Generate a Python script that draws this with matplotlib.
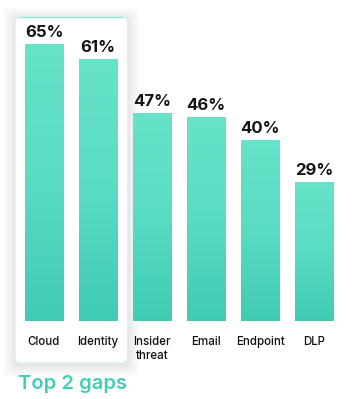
import numpy as np
import matplotlib
matplotlib.use("Agg")
import matplotlib.pyplot as plt
from matplotlib.patches import FancyBboxPatch, Rectangle
from matplotlib.colors import LinearSegmentedColormap

categories = ['Cloud', 'Identity', 'Insider\nthreat', 'Email', 'Endpoint', 'DLP']
values = [65, 61, 47, 46, 40, 29]
value_labels = ['65%', '61%', '47%', '46%', '40%', '29%']

plt.rcParams['font.family'] = ['Inter', 'DejaVu Sans']

fig = plt.figure(figsize=(3.55, 3.99), dpi=100)
ax = fig.add_axes([0, 0, 1, 1])
ax.set_xlim(-0.815, 5.759)
ax.set_ylim(-27.35, 76.34)
ax.axis('off')

# px -> data helpers (54 px per category, 3.848 px per percent)
px_x = 1 / 54
px_y = 1 / 3.848
base = -7.0

# highlight box around the top 2 with soft shadow
bx0, bx1 = -0.815 + 15 * px_x, -0.815 + 127.7 * px_x
by0 = 76.34 - 363 * px_y
by1 = 76.34 - 17 * px_y
for k in range(12, 0, -1):
    grow = k * 1.0
    sh = FancyBboxPatch((bx0 - grow * px_x, by0 - (grow + 2) * px_y),
                        (bx1 - bx0) + 2 * grow * px_x, (by1 - by0) + 2 * grow * px_y,
                        boxstyle="round,pad=0,rounding_size=0.12",
                        mutation_aspect=54 / 3.848,
                        fc='#000000', ec='none', alpha=0.006, zorder=1)
    ax.add_patch(sh)
box = FancyBboxPatch((bx0, by0), bx1 - bx0, by1 - by0,
                     boxstyle="round,pad=0,rounding_size=0.12",
                     mutation_aspect=54 / 3.848,
                     fc='white', ec='#d3f3ec', lw=0.8, zorder=2)
ax.add_patch(box)
# teal edge along the top, fading away
ax.plot([bx0 + 0.1, bx1 - 0.1], [by1, by1], color='#8fe3d2', lw=0.9, zorder=2)

cmap = LinearSegmentedColormap.from_list('bar', ['#40cbb3', '#5adcc3', '#66e3c9'])
grad = np.linspace(0, 1, 256).reshape(-1, 1)
width = 38 / 54

x = np.arange(len(categories))
bars = ax.bar(x, np.array(values) - base, width, bottom=base,
              color='none', edgecolor='none', zorder=3)
for b in bars:
    x0, y0 = b.get_x(), b.get_y()
    w, h = b.get_width(), b.get_height()
    im = ax.imshow(grad, cmap=cmap, aspect='auto', origin='lower',
                   extent=(x0, x0 + w, y0, y0 + h), zorder=3)
    clip = Rectangle((x0, y0), w, h, transform=ax.transData)
    im.set_clip_path(clip)

for xi, v, lab in zip(x, values, value_labels):
    ax.text(xi, v + 4 * px_y, lab, ha='center', va='bottom',
            fontsize=12, fontweight='bold', color='#131318', zorder=4)

for xi, cat in zip(x, categories):
    ax.text(xi, base - 15 * px_y, cat, ha='center', va='top',
            fontsize=8.3, fontweight='medium', color='#111114',
            linespacing=1.3, zorder=4)

ax.text(-0.815 + 18 * px_x, 76.34 - 384 * px_y, 'Top 2 gaps', ha='left',
        va='center', fontsize=14.5, fontweight='semibold', color='#40cfb4', zorder=4)

ax.set_xlim(-0.815, 5.759)
ax.set_ylim(-27.35, 76.34)

fig.savefig('out.png', dpi=100, facecolor='white')
